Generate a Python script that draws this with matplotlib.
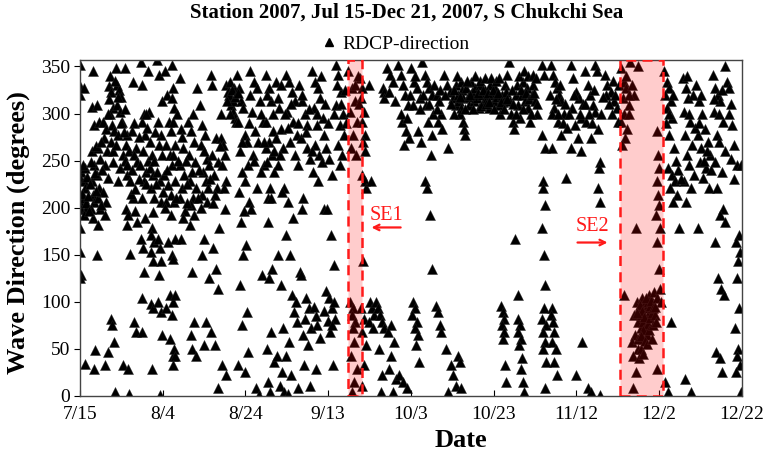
import matplotlib as mpl
mpl.use('Agg')

import matplotlib.pyplot as plt
from matplotlib.lines import Line2D
import pandas as pd

# wave direction readings, (days since 7/15, degrees), grouped by month
jul = [(0, 352), (0, 329), (0, 320), (0.2, 238), (0.1, 231), (0, 206), (0.3, 199), (0, 178), (0, 153), (0.2, 128), (0.1, 125),
       (1, 327), (1.2, 242), (0.9, 228), (1.3, 221), (1, 210), (1.4, 199), (1.1, 192), (1.3, 34),
       (3.2, 345), (3, 307), (3.3, 288), (2.9, 260), (3.4, 245), (3, 228), (3.1, 213), (3.5, 206), (2.8, 199), (3.2, 189),
       (4.2, 150), (3.6, 49), (3.4, 29),
       (4.2, 309), (4.6, 291), (4.4, 263), (4.8, 252), (4.1, 235), (4.7, 221), (4.3, 210), (4.9, 199), (4.5, 182),
       (5.6, 291), (6.2, 284), (5.8, 274), (6.5, 260), (6, 245), (6.7, 231), (5.7, 217), (6.4, 206), (6.1, 192), (6.8, 47), (6, 33),
       (7.1, 329), (7.6, 323), (8, 306), (7.3, 299), (7.8, 288), (8.3, 281), (7.5, 270), (8.1, 260), (7.9, 249),
       (7.6, 82), (7.8, 75), (8.2, 57), (8.4, 4),
       (8.7, 348), (9, 330), (9.5, 325), (10, 318), (8.9, 309), (9.8, 302), (10.2, 291), (9.3, 277), (8.8, 267), (10.4, 256),
       (9.6, 242), (9.1, 228), (10.5, 33),
       (11, 348), (11.5, 277), (11.2, 267), (11.8, 260), (11.4, 235), (12, 228), (11.1, 199), (11.7, 192), (11.3, 182),
       (12, 151), (11.6, 29), (11.9, 2),
       (12.8, 334), (13.2, 290), (12.6, 281), (13.6, 263), (13, 256), (13.9, 249), (12.9, 210), (13.4, 196), (13.7, 185),
       (13, 79), (13.5, 68),
       (14.7, 355), (15, 330), (15.5, 299), (14.9, 291), (15.7, 277), (15.2, 260), (14.6, 245), (15.9, 238), (15.4, 228),
       (15.1, 210), (15.8, 189), (14.8, 167), (15.3, 157), (15.6, 132), (15.1, 104), (14.9, 68),
       (16.5, 345), (16.8, 302),
       (0.5, 215), (0.7, 245), (1.6, 205), (1.8, 233), (2.2, 197), (2.4, 225), (2.6, 248), (2, 212), (3.7, 237), (3.9, 218),
       (4, 266), (5.2, 203), (5.4, 240), (5.1, 270), (6.9, 300), (7, 315), (7.4, 340), (8.5, 335), (9.2, 318), (9.9, 290),
       (10.8, 305), (10.6, 280), (10.9, 250), (11.3, 245), (12.3, 215), (12.5, 240), (13.3, 220), (14.2, 275), (14.4, 230),
       (15.9, 300), (16.2, 285), (16.4, 250), (16.1, 225)]

aug = [(17, 270), (17.4, 256), (16.9, 242), (17.7, 235), (17.2, 221), (17.9, 210), (17.5, 178), (17.1, 171), (17.8, 164),
       (17.3, 153), (17.6, 143), (17.1, 98), (17.7, 93), (17.4, 29),
       (18.6, 357), (19.2, 341), (19.8, 313), (18.9, 291), (19.5, 277), (19.1, 267), (19.9, 256), (18.7, 238), (19.4, 228),
       (20, 217), (19.6, 206), (18.8, 167), (19.3, 157), (19.7, 143), (19.1, 128), (18.9, 100), (19.6, 89), (19.9, 65), (19.3, 1),
       (20.6, 345), (21, 320), (21.5, 291), (22, 281), (20.8, 267), (21.7, 256), (22.3, 245), (21.2, 224), (22.1, 213),
       (20.9, 206), (21.4, 164), (22.2, 150), (21.8, 107), (22.5, 100), (20.7, 93), (21.9, 61), (22.4, 43),
       (22.2, 352), (22.6, 327), (22.3, 316), (22.8, 306), (22.5, 291), (22.9, 267), (22.4, 256), (23, 228), (22.7, 206),
       (22.1, 192), (23.1, 167), (22.6, 146), (22.9, 107), (22.3, 86), (22.8, 50), (23, 43), (22.5, 33),
       (24.1, 338), (24.5, 284), (25, 263), (24.3, 245), (25.2, 235), (24.7, 221), (24.2, 210), (25.4, 196), (24.9, 189), (24.4, 167),
       (26.2, 291), (26.8, 281), (27.5, 270), (26.4, 256), (27.9, 249), (27, 238), (26.6, 228), (28.1, 221), (27.3, 210),
       (26.9, 203), (27.7, 192), (26.5, 182), (27, 132), (27.6, 79), (26.8, 65), (27.2, 50), (28, 43), (28.2, 327),
       (29, 309), (29.6, 288), (30.2, 277), (29.3, 267), (30.7, 252), (31.2, 245), (29.8, 238), (30.4, 228), (31, 221),
       (29.5, 213), (30.8, 206), (30, 167), (29.4, 150), (31.3, 125), (30.5, 79), (29.9, 54),
       (31.6, 341), (32, 330), (32.8, 274), (31.9, 256), (33.4, 249), (32.4, 235), (33.1, 221), (32.6, 213), (33.6, 178),
       (32.2, 157), (33, 135), (33.5, 114), (31.8, 68), (32.7, 54), (33.3, 8),
       (34.1, 274), (34.6, 267), (35, 256), (34.4, 245), (35.3, 228), (34.8, 221), (35.1, 199), (34.3, 33), (35.4, 22),
       (35.3, 330), (35.8, 323), (36.2, 316), (36.6, 309), (37, 302), (37.5, 295), (36, 320), (36.9, 313), (37.8, 291),
       (35.6, 313), (37.2, 327), (36.4, 333),
       (38, 341), (38.5, 327), (39, 313), (39.4, 306), (38.2, 291), (39.8, 277), (40.3, 270), (38.7, 260), (40.6, 245),
       (39.2, 238), (40, 228), (38.4, 217), (40.9, 206), (39.6, 196), (38.9, 185), (40.2, 160), (39.5, 150), (38.6, 118),
       (40.4, 89), (39.1, 75), (40.7, 47), (38.3, 33), (39.9, 26),
       (41.2, 345), (42, 334), (42.7, 327), (43.5, 313), (41.6, 302), (44.2, 291), (42.4, 281), (43.1, 270), (45, 263),
       (41.9, 256), (44.6, 245), (43.8, 238), (42.9, 221), (45.5, 210), (41.4, 199), (44, 128), (42.5, 8), (43.3, 1),
       (44.9, 341), (45.6, 327), (46.2, 313), (45.1, 291), (46.7, 281), (45.8, 270), (46.4, 256), (45.3, 249), (46.9, 238),
       (45.9, 221), (46.1, 210), (45.4, 185), (46.5, 135), (45.7, 125), (46.3, 68), (45.2, 50), (46.8, 36), (45.5, 15),
       (46, 4), (47.3, 334),
       (17.6, 195), (18, 250), (18.3, 225), (18.2, 280), (20.3, 235), (20.5, 200), (21.1, 240), (23.5, 300), (23.7, 250),
       (23.3, 210), (24.8, 275), (25.6, 250), (25.8, 205), (26, 225), (27.4, 300), (28.5, 210), (28.8, 240), (29.2, 200),
       (30, 260), (31.5, 230), (32.1, 205), (33.8, 265), (34, 300), (36.2, 300), (36.7, 325), (37.4, 318), (38.1, 322),
       (39.3, 270), (40.8, 290), (41, 320), (42.2, 250), (43.7, 300), (44.5, 270), (45.2, 320), (46.6, 300), (47, 260)]

sep = [(47.8, 316), (48.2, 306), (48.6, 284), (47.5, 274), (49, 263), (48.4, 256), (47.9, 245), (49.3, 221), (48.8, 217),
       (48, 150), (48.5, 118), (49.2, 72), (47.6, 43), (48.9, 26), (48.3, 11), (49.4, 4),
       (49.7, 341), (50.5, 334), (51.2, 323), (52, 313), (50.1, 302), (51.6, 291), (52.4, 277), (50.8, 270), (51.9, 256),
       (52.6, 245), (50.3, 206), (51.4, 189), (49.9, 171), (50.9, 150), (51.3, 107), (52.2, 100), (51.8, 89), (52.5, 79),
       (50.6, 57), (49.8, 43), (51, 22), (52.7, 8), (50.2, 2),
       (53, 330), (53.6, 313), (54.3, 299), (55, 288), (53.4, 274), (54.8, 263), (55.6, 252), (54, 210), (53.8, 199),
       (53.2, 132), (53.5, 128), (54.6, 104), (55.3, 93), (54.4, 82), (55.8, 72), (53.9, 65), (55.1, 54), (54.2, 33), (55.5, 11),
       (56.2, 345), (56.8, 334), (57.5, 327), (58, 316), (56.5, 306), (58.7, 295), (57.2, 288), (59, 277), (56.9, 267),
       (57.8, 256), (58.4, 249), (56.3, 238), (57.6, 228), (58.9, 199), (57, 29),
       (59.5, 263), (60.3, 252), (61, 235), (59.8, 199), (60.6, 171), (61.5, 139), (59.6, 111), (60.2, 104), (60.9, 93),
       (61.7, 82), (60.4, 68), (61.2, 33),
       (61.8, 352), (62.5, 341), (63.2, 323), (62, 309), (63.6, 299), (62.8, 288), (63.9, 277), (62.3, 267), (63.4, 256), (62.9, 245),
       (64.9, 345), (65.8, 327), (66.5, 313), (65.2, 302), (67, 291), (66, 277), (65.5, 263), (66.8, 256),
       (65.4, 100), (66.1, 93), (65.7, 86), (66.6, 79), (65.9, 72), (66.3, 57), (65.6, 43), (66.9, 29), (66.2, 15), (65.8, 4),
       (67.8, 338), (68.3, 327), (67.9, 316), (68.6, 302), (68.1, 291), (68.9, 277), (68.4, 270), (69, 260), (68.2, 235),
       (68.8, 228), (69.2, 221), (68.5, 143), (68, 93), (68.7, 82), (68.3, 68), (69.1, 54), (68.6, 33), (68.1, 11),
       (69.9, 330), (70.4, 228), (70, 100), (70.6, 93), (71.1, 86), (69.8, 79), (70.9, 72),
       (71.5, 100), (72, 93), (72.6, 86), (73, 79), (73.4, 72), (72.3, 50), (73.1, 22), (72.7, 4),
       (73.2, 327), (73.6, 323), (73.4, 316),
       (74.3, 348), (75, 341), (75.6, 334), (74.7, 323), (76.2, 313), (75.3, 75), (74.5, 68), (76, 57), (75.1, 43),
       (74.8, 29), (76.4, 18), (75.7, 4), (77, 352), (77.5, 341),
       (48.7, 330), (49.5, 300), (50.2, 285), (51, 310), (52.8, 290), (53.8, 320), (54.6, 280), (55.4, 305), (56, 260),
       (57.3, 300), (58.2, 340), (59.3, 310), (60, 290), (61.3, 300), (62.2, 330), (63, 310), (64, 325), (64.2, 290),
       (67.3, 340), (67.5, 310), (66.4, 330),
       (56.5, 95), (57, 85), (57.4, 75), (58, 62), (59, 90), (59.9, 80), (61, 75), (61.4, 100)]

oct = [(78, 330), (78.6, 320), (79.3, 309), (77.8, 291), (78.8, 281), (79.5, 274), (78.3, 267), (77.2, 22), (78.2, 15), (79, 8),
       (80, 348), (80.7, 334), (81.4, 327), (82.1, 316), (80.4, 309), (81.8, 281), (82.5, 270), (80.6, 100), (81, 93),
       (80.3, 86), (81.4, 79), (80.9, 72), (81.6, 65), (81.2, 54), (82, 36),
       (82.8, 355), (83.3, 341), (83.9, 334), (84.5, 327), (85, 320), (83.6, 309), (84.2, 291), (85.2, 277), (84.8, 256),
       (83.5, 228), (84, 221), (84.6, 192), (85.1, 135),
       (85.6, 330), (86.2, 320), (86.8, 313), (87.3, 299), (86.5, 291), (87.6, 284), (86, 96), (86.6, 89), (87.1, 75), (87.4, 68),
       (88, 341), (88.7, 330), (89.4, 323), (90.1, 316), (91, 309), (89, 263), (88.4, 50), (89.6, 33), (90.3, 22), (90.8, 11), (88.9, 4),
       (91, 330), (91.3, 320), (91.6, 313), (92, 334), (92.3, 325), (92.7, 316), (92.1, 306), (91.8, 299), (92.5, 291),
       (92.8, 284), (93, 277), (93.3, 327), (93.7, 318), (94.1, 309), (94.5, 334), (94.8, 323), (95.2, 313), (95.6, 327),
       (96, 316), (96.4, 306), (96.8, 330), (97.2, 320), (97.6, 313), (98, 325), (98.4, 316), (98.8, 306), (99.2, 330),
       (99.6, 320), (100, 313), (100.4, 327), (100.8, 318), (101.2, 309), (101.6, 299), (102, 320), (102.3, 312),
       (102.7, 330), (103, 323), (103.3, 341), (103.6, 355), (104, 313), (104.3, 299), (104.7, 291), (105, 284),
       (105.3, 320), (105.7, 330), (106, 309), (106.4, 295), (106.8, 320), (107.2, 334), (107.6, 313), (108, 327),
       (108.4, 306), (108.8, 291),
       (91.4, 43), (91.8, 36), (92, 8), (101.9, 96), (102.2, 89), (102.5, 82), (102.1, 75), (102.6, 68), (102.3, 61),
       (102.8, 33), (103, 15), (105.2, 167), (105.8, 107), (106, 82), (106.3, 75), (105.9, 68), (106.6, 61), (106.2, 54),
       (106.9, 40), (106.5, 29), (107, 15), (107.3, 4),
       (90.5, 325), (91.1, 340), (91.9, 318), (93.1, 305), (93.5, 335), (94.3, 320), (94.9, 305), (95.4, 340), (96.2, 322),
       (96.6, 335), (97, 308), (97.4, 325), (97.9, 338), (98.2, 310), (98.6, 322), (99, 312), (99.4, 338), (99.8, 325),
       (100.2, 305), (100.6, 335), (101, 322), (101.4, 338), (101.8, 312), (102.5, 305), (103.2, 315), (104.5, 325),
       (104.8, 310), (105.5, 300), (106.2, 340), (106.6, 325), (107, 305), (107.4, 345), (107.8, 322), (108.2, 340),
       (108.6, 315),
       (77.6, 300), (79, 295), (79.8, 320), (81, 340), (82.3, 305), (83, 320), (84.4, 310), (85.4, 300), (86.4, 305),
       (87, 325), (88.3, 320), (89.8, 310), (90.5, 300)]

nov = [(109.2, 320), (109.6, 341), (110, 313), (110.4, 299),
       (109, 300), (109.4, 330), (109.8, 322), (110.2, 338), (110.6, 310),
       (111.8, 352), (112.2, 341), (111.6, 277), (112.4, 263), (111.9, 228), (112, 221), (112.3, 203), (111.7, 178),
       (112.1, 150), (112.5, 118), (112.2, 93), (111.8, 82), (112.6, 75), (112, 68), (112.4, 57), (111.9, 50), (112.7, 36), (112.3, 8),
       (113.8, 352), (114.3, 341), (114.8, 334), (115.2, 327), (115.8, 320), (116.4, 313), (114.6, 306), (117, 299),
       (115.5, 291), (116.2, 277), (114, 263), (117.5, 231), (114.1, 93), (113.9, 86), (114.4, 79), (114.7, 68),
       (114.2, 57), (115, 50), (114.5, 36), (115.2, 22),
       (118.6, 352), (119.3, 338), (120, 323), (120.6, 316), (119, 306), (121.2, 295), (119.7, 288), (120.3, 274),
       (118.8, 263), (121, 260), (121.4, 57), (120, 22),
       (122, 345), (122.7, 330), (123.3, 320), (124, 309), (124.6, 302), (122.4, 291), (125.2, 284), (123.6, 274),
       (125.8, 249), (125.5, 242), (125.3, 221), (125.6, 206), (122.8, 8), (123.5, 4), (125.8, 1), (124.5, 352), (125, 345),
       (126.8, 341), (127.5, 330), (128.3, 323), (129, 313), (129.8, 306), (128.6, 299), (127.2, 320), (130, 291),
       (113.6, 320), (114.2, 300), (115, 315), (115.6, 300), (116, 330), (116.8, 290), (117.3, 310), (117.8, 285),
       (118.2, 300), (119.5, 320), (120.8, 300), (121.5, 310), (122.2, 310), (123, 300), (123.8, 290), (124.2, 325),
       (126, 300), (126.4, 318), (127.8, 310), (128.8, 335), (129.4, 320), (130.2, 330),
       (130.8, 348), (131.4, 334), (132, 327), (131.2, 316), (132.6, 309), (131.6, 299), (130.9, 291), (132.3, 284),
       (131.8, 274), (131, 267), (134.5, 178), (131.5, 107), (134.6, 100), (135.2, 93), (133.9, 86), (134.8, 79),
       (135.5, 72), (134.2, 65), (133.5, 57), (134.9, 50), (133.8, 43), (134.3, 26), (133.6, 8),
       (135.8, 104), (136.3, 98), (136.8, 93), (137.2, 100), (137.6, 107), (135.5, 86), (136, 79), (136.6, 72), (137, 65),
       (137.4, 86), (137.8, 96), (136.2, 61), (135, 61), (135.7, 50),
       (133, 355), (135, 350), (132.8, 300), (133.5, 330), (134, 320), (131.9, 340), (132.8, 320),
       (135.3, 97), (135.9, 90), (136.4, 84), (136.9, 104), (137.3, 76), (137.9, 83), (138.3, 88), (136.1, 70), (135.6, 64),
       (134.7, 88), (136.7, 58), (137.6, 70), (138.6, 75), (135.1, 40), (136, 45), (137.1, 55)]

dec = [(138, 101), (138.5, 93), (139, 86), (139.3, 79), (138.8, 110), (139.6, 104), (138.2, 61), (139.5, 281), (139.8, 256),
       (140, 242), (139.4, 228), (139.7, 213), (139.9, 203), (139.2, 192), (140.1, 178), (139.6, 164), (140, 135),
       (140.3, 114), (140.4, 100), (139.5, 29), (139.1, 95),
       (141.2, 345), (141.8, 334), (142.3, 327), (141.5, 320), (142.8, 313), (141.9, 306), (143.2, 295), (142.5, 277),
       (143.6, 263), (142.1, 242), (143, 235), (143.9, 228), (142.7, 221), (144.3, 213), (143.4, 206), (144.8, 178),
       (142.9, 79), (141.4, 15), (142.2, 4),
       (145.8, 338), (146.4, 327), (147, 316), (145.9, 302), (147.5, 291), (146.2, 277), (148, 267), (146.7, 256),
       (147.3, 245), (148.4, 235), (146, 228), (147.8, 221), (146.5, 206), (146.3, 18), (147.6, 4),
       (149, 330), (149.7, 313), (150.4, 299), (151.1, 284), (149.3, 277), (151.8, 270), (150.1, 263), (152.3, 256),
       (149.8, 249), (151.4, 242), (150.7, 231), (152, 221), (149.4, 178),
       (152.9, 341), (153.5, 327), (154.2, 320), (154.8, 313), (153.2, 302), (155.4, 291), (153.9, 277), (154.5, 270),
       (155.8, 260), (153.6, 249), (155.1, 238), (154, 221), (155.5, 199), (154.7, 192), (155.9, 185), (153.4, 164),
       (154.3, 125), (155, 114), (155.6, 107), (153.8, 47), (154.6, 40), (155.3, 26),
       (156.3, 334), (157, 327), (156.8, 299), (157.6, 288), (158.2, 267), (157.3, 252), (158.8, 245), (159.2, 171),
       (158.5, 164), (159.6, 153), (159, 143), (158.7, 125), (159.4, 93), (158.3, 72), (159.1, 50), (158.9, 43),
       (159.5, 33), (158.6, 26), (159.8, 4),
       (141.6, 290), (142.4, 300), (143.4, 320), (144, 250), (144.5, 240), (145.2, 230), (146.8, 340), (147.2, 300),
       (148.2, 320), (148.6, 285), (149.6, 290), (150.2, 320), (150.9, 250), (151.6, 260), (152.6, 240), (153.3, 315),
       (154.4, 300), (155.2, 325), (155.9, 350), (157.3, 310), (158, 230), (159.7, 245)]

start = pd.Timestamp('2007-07-15')
end = pd.Timestamp('2007-12-22')
tick_labels = ['7/15', '8/4', '8/24', '9/13', '10/3', '10/23', '11/12', '12/2', '12/22']
tick_dates = pd.date_range(start, end, freq='20D')

# storm events (day offsets)
se1 = (64.7, 68.3)
se2 = (130.5, 141.0)

serif = 'Liberation Serif'
red = '#FF1A1A'

pts = pd.DataFrame(jul + aug + sep + oct + nov + dec, columns=['day', 'dir'])
pts['date'] = start + pd.to_timedelta(pts['day'], unit='D')


def d(x):
    return start + pd.Timedelta(days=x)


fig = plt.figure(figsize=(7.68, 4.57), dpi=100)
ax = fig.add_axes([0.104, 0.1335, 0.862, 0.7355])

ax.scatter(pts['date'], pts['dir'], marker='^', s=52, color='black', edgecolors='#222222',
           linewidths=0.3, zorder=2)

for a, b in (se1, se2):
    ax.axvspan(d(a), d(b), facecolor=(1, 0, 0, 0.2), edgecolor=red,
               linestyle=(0, (4, 2.5)), linewidth=1.8, zorder=3)

ax.text(d(74), 192, 'SE1', color=red, family=serif, fontsize=14.5, ha='center', va='center')
ax.annotate('', xy=(d(69.8), 179), xytext=(d(78.2), 179),
            arrowprops=dict(arrowstyle='->', color=red, lw=1.6))
ax.text(d(123.8), 180, 'SE2', color=red, family=serif, fontsize=14.5, ha='center', va='center')
ax.annotate('', xy=(d(128.2), 163), xytext=(d(119.6), 163),
            arrowprops=dict(arrowstyle='->', color=red, lw=1.6))

ax.set_xlim(start, end)
ax.set_ylim(0, 357)
ax.set_yticks(range(0, 351, 50))
ax.set_xticks(tick_dates, labels=tick_labels)
ax.tick_params(axis='x', direction='in', length=4, pad=7)
ax.tick_params(axis='y', direction='out', length=4, pad=3)
for lab in ax.get_xticklabels() + ax.get_yticklabels():
    lab.set_family(serif)
    lab.set_fontsize(14)
for sp in ax.spines.values():
    sp.set_color('#444444')
    sp.set_linewidth(1.0)

fig.text(0.529, 0.972, 'Station 2007, Jul 15-Dec 21, 2007, S Chukchi Sea', family=serif,
         fontsize=15, fontweight='bold', ha='center', va='center')
handle = Line2D([], [], marker='^', color='black', linestyle='none', markersize=6)
fig.legend([handle], ['RDCP-direction'], loc='center', bbox_to_anchor=(0.515, 0.904), frameon=False,
           prop={'family': serif, 'size': 14}, handlelength=0.8, handletextpad=0.3, borderpad=0)
fig.text(0.024, 0.492, 'Wave Direction (degrees)', family=serif, fontsize=19, fontweight='bold',
         rotation=90, ha='center', va='center')
fig.text(0.6, 0.037, 'Date', family=serif, fontsize=19, fontweight='bold', ha='center', va='center')

fig.savefig('out.png', dpi=100, facecolor='white')
